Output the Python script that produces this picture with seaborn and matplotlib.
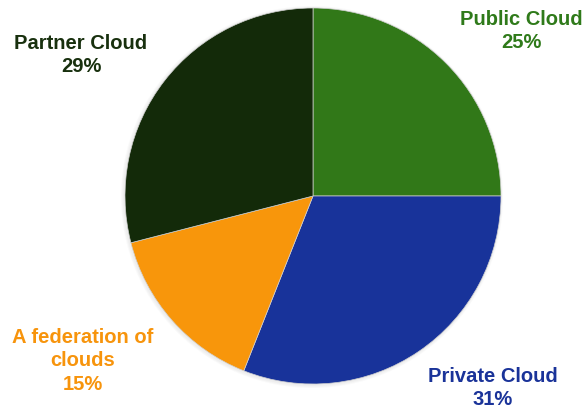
import matplotlib
matplotlib.use("Agg")
import matplotlib.pyplot as plt
import matplotlib.patches as mpatches
import seaborn as sns

categories = ["Public Cloud", "Private Cloud", "A federation of\nclouds", "Partner Cloud"]
shares = [25, 31, 15, 29]
slice_colors = ["#317818", "#18339a", "#f8960b", "#132a09"]
label_colors = ["#2f7a1a", "#1a3399", "#f7940c", "#18300e"]

sns.set_theme(style="white")
plt.rcParams["font.family"] = ["Liberation Sans", "DejaVu Sans"]

W, H = 583, 412
fig = plt.figure(figsize=(W / 100, H / 100), dpi=100)
ax = fig.add_axes([0, 0, 1, 1])
ax.set_xlim(0, W)
ax.set_ylim(0, H)
ax.set_aspect("equal")
ax.axis("off")

cx, cy, r = 313, 412 - 196, 188

# soft shadow around the disc
for k, a in enumerate([0.05, 0.05, 0.06]):
    ax.add_patch(mpatches.Circle((cx - 1, cy - 1), r + 3 - k, color="#9a9a9a",
                                 alpha=a, lw=0, zorder=0))

palette = sns.color_palette(slice_colors)
ax.pie(shares, colors=palette, startangle=90, counterclock=False,
       center=(cx, cy), radius=r, frame=True,
       wedgeprops=dict(linewidth=0.5, edgecolor="#cfcfcf"))
ax.set_xlim(0, W)
ax.set_ylim(0, H)
ax.axis("off")

label_pos = [(521, 31), (493, 388), (83, 361), (81, 55)]
for name, val, col, (x, y) in zip(categories, shares, label_colors, label_pos):
    ax.text(x, H - y, f"{name}\n{val}%", ha="center", va="center",
            fontsize=14.5, fontweight="bold", color=col, linespacing=1.3)

fig.savefig("out.png", dpi=100)
